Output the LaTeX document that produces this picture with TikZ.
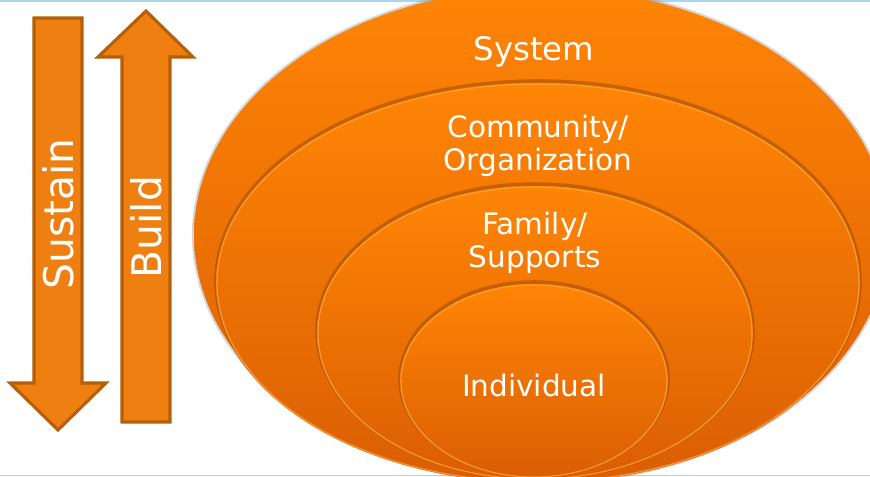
\documentclass[tikz,border=0pt]{standalone}
\usepackage{fontspec}
\setmainfont{DejaVu Sans}

\definecolor{arrowfill}{HTML}{EE7F10}
\definecolor{arrowline}{HTML}{B55F08}
\definecolor{ringtop}{HTML}{FF8506}
\definecolor{ringbot}{HTML}{DA5E03}
\definecolor{ringedge}{HTML}{9A4600}
\definecolor{ringlight}{HTML}{FFA63F}
\definecolor{rulecol}{HTML}{A9D6EC}

\tikzset{
  bigarrow/.style={fill=arrowfill, draw=arrowline, line width=2.2pt, line join=miter},
  arrowtext/.style={text=white, font=\fontsize{29}{29}\selectfont, rotate=90},
  ring/.style={top color=ringtop, middle color=ringtop, bottom color=ringbot},
  ringshadow/.style={draw=ringedge, line width=2.5pt, opacity=0.5},
  ringlight/.style={draw=ringlight, line width=0.8pt, opacity=0.8},
  ringtext/.style={text=white, align=center, font=\fontsize{21}{23.5}\selectfont},
}

\begin{document}
\begin{tikzpicture}[x=0.025cm, y=-0.025cm]
\useasboundingbox (0,0) rectangle (870,477);
\clip (0,0) rectangle (870,477);
\fill [white] (0,0) rectangle (870,477);
\draw [rulecol, line width=1.2pt] (0,0.8) -- (870,0.8);
\draw [rulecol, line width=1.2pt] (0,475.5) -- (870,475.5);

% arrows
\draw [bigarrow] (34,18) -- (82,18) -- (82,383) -- (106,383) -- (58,430) -- (10,383) -- (34,383) -- cycle;
\draw [bigarrow] (122,422) -- (170,422) -- (170,57) -- (193,57) -- (146,11) -- (98,57) -- (122,57) -- cycle;
\node [arrowtext] (sustain) at (58,214) {Sustain};
\node [arrowtext] (build) at (146,227) {Build};

% outer ring
\draw [black!45, line width=3pt, opacity=0.35] (541,235) ellipse [x radius=347, y radius=247];
\shade [ring] (541,235) ellipse [x radius=347, y radius=247];

% inner rings
\foreach \cx/\cy/\rx/\ry in {538/283/322/200, 535/333/218/147, 534/381/134/97}
{
  \draw [ringshadow] (\cx,\cy-2) ellipse [x radius=\rx, y radius=\ry];
  \shade [ring] (\cx,\cy) ellipse [x radius=\rx, y radius=\ry];
  \draw [ringlight] (\cx,\cy) ellipse [x radius=\rx-1, y radius=\ry-1];
}

\node [ringtext, font=\fontsize{23}{25}\selectfont] (system) at (534,52) {System};
\node [ringtext] (community) at (538,146) {Community/\\Organization};
\node [ringtext] (family) at (535,243) {Family/\\Supports};
\node [ringtext] (individual) at (534,385) {Individual};
\end{tikzpicture}
\end{document}
